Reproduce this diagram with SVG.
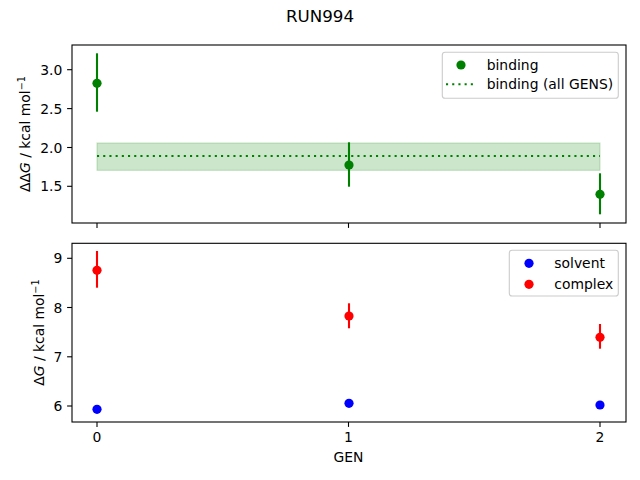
<svg xmlns="http://www.w3.org/2000/svg" width="640" height="480" viewBox="0 0 640 480">
<style>
text{font-family:"DejaVu Sans","Liberation Sans",sans-serif;fill:#000}
.tick{font-size:13.9px}
.ytl{text-anchor:end}
.xtl{text-anchor:middle}
.spine{fill:none;stroke:#000;stroke-width:1.1}
.tk{stroke:#000;stroke-width:1.1}
.leg{fill:#fff;fill-opacity:0.8;stroke:#cccccc;stroke-width:1.1}
.eg{stroke:#008000;stroke-width:2.1}
.er{stroke:#ff0000;stroke-width:2.1}
</style>
<rect width="640" height="480" fill="#fff"/>
<text x="320" y="22" font-size="16.7" text-anchor="middle">RUN994</text>

<g id="top-axes">
  <rect x="97" y="143" width="503" height="27.3" fill="#008000" fill-opacity="0.2" stroke="#008000" stroke-opacity="0.2" stroke-width="1.1"/>
  <line x1="97" y1="156" x2="600" y2="156" stroke="#008000" stroke-width="2.1" stroke-dasharray="2.1 4.1"/>
  <g id="binding-points">
    <line class="eg" x1="97" y1="53.3" x2="97" y2="111.7"/>
    <circle cx="97" cy="83.3" r="4.6" fill="#008000"/>
    <line class="eg" x1="349" y1="142.3" x2="349" y2="186.7"/>
    <circle cx="349" cy="165" r="4.6" fill="#008000"/>
    <line class="eg" x1="600" y1="173.3" x2="600" y2="214.3"/>
    <circle cx="600" cy="194.3" r="4.6" fill="#008000"/>
  </g>
  <rect class="spine" x="72" y="45" width="554" height="178"/>
  <g id="top-ticks">
    <line class="tk" x1="72" y1="69.7" x2="67.1" y2="69.7"/>
    <line class="tk" x1="72" y1="108.6" x2="67.1" y2="108.6"/>
    <line class="tk" x1="72" y1="147.5" x2="67.1" y2="147.5"/>
    <line class="tk" x1="72" y1="186.3" x2="67.1" y2="186.3"/>
    <line class="tk" x1="97" y1="223" x2="97" y2="227.9"/>
    <line class="tk" x1="348.5" y1="223" x2="348.5" y2="227.9"/>
    <line class="tk" x1="600" y1="223" x2="600" y2="227.9"/>
    <text class="tick ytl" x="62.3" y="74.7">3.0</text>
    <text class="tick ytl" x="62.3" y="113.6">2.5</text>
    <text class="tick ytl" x="62.3" y="152.5">2.0</text>
    <text class="tick ytl" x="62.3" y="191.3">1.5</text>
  </g>
  <text transform="translate(30,134) rotate(-90)" font-size="13.9" text-anchor="middle">ΔΔ<tspan font-style="italic">G</tspan> / kcal mol<tspan font-size="9.7" dy="-5">−1</tspan></text>
  <g id="top-legend">
    <rect class="leg" x="442.3" y="52.3" width="176" height="46" rx="2.8"/>
    <circle cx="461" cy="65" r="4.6" fill="#008000"/>
    <text class="tick" x="486.7" y="69.6">binding</text>
    <line x1="446" y1="84.3" x2="475" y2="84.3" stroke="#008000" stroke-width="2.1" stroke-dasharray="2.1 4.1"/>
    <text class="tick" x="486.7" y="89.4">binding (all GENS)</text>
  </g>
</g>

<g id="bottom-axes">
  <g id="complex-points">
    <line class="er" x1="97" y1="251" x2="97" y2="287.7"/>
    <circle cx="97" cy="270.3" r="4.6" fill="#ff0000"/>
    <line class="er" x1="349" y1="303.3" x2="349" y2="328.3"/>
    <circle cx="349" cy="316" r="4.6" fill="#ff0000"/>
    <line class="er" x1="600" y1="324" x2="600" y2="348.7"/>
    <circle cx="600" cy="337.3" r="4.6" fill="#ff0000"/>
  </g>
  <g id="solvent-points">
    <circle cx="97" cy="409.3" r="4.6" fill="#0000ff"/>
    <circle cx="349" cy="403.3" r="4.6" fill="#0000ff"/>
    <circle cx="600" cy="405" r="4.6" fill="#0000ff"/>
  </g>
  <rect class="spine" x="72" y="243.3" width="554" height="178.7"/>
  <g id="bottom-ticks">
    <line class="tk" x1="72" y1="258.3" x2="67.1" y2="258.3"/>
    <line class="tk" x1="72" y1="307.5" x2="67.1" y2="307.5"/>
    <line class="tk" x1="72" y1="356.8" x2="67.1" y2="356.8"/>
    <line class="tk" x1="72" y1="406" x2="67.1" y2="406"/>
    <text class="tick ytl" x="62.3" y="263.3">9</text>
    <text class="tick ytl" x="62.3" y="312.5">8</text>
    <text class="tick ytl" x="62.3" y="361.8">7</text>
    <text class="tick ytl" x="62.3" y="411">6</text>
    <line class="tk" x1="97" y1="422" x2="97" y2="426.9"/>
    <line class="tk" x1="348.5" y1="422" x2="348.5" y2="426.9"/>
    <line class="tk" x1="600" y1="422" x2="600" y2="426.9"/>
    <text class="tick xtl" x="97" y="441.7">0</text>
    <text class="tick xtl" x="348.5" y="441.7">1</text>
    <text class="tick xtl" x="600" y="441.7">2</text>
  </g>
  <text x="348.5" y="462" font-size="13.9" text-anchor="middle">GEN</text>
  <text transform="translate(43.5,332.6) rotate(-90)" font-size="13.9" text-anchor="middle">Δ<tspan font-style="italic">G</tspan> / kcal mol<tspan font-size="9.7" dy="-5">−1</tspan></text>
  <g id="bottom-legend">
    <rect class="leg" x="509.3" y="250.3" width="109" height="45.7" rx="2.8"/>
    <circle cx="529" cy="263.3" r="4.6" fill="#0000ff"/>
    <text class="tick" x="554.3" y="268.1">solvent</text>
    <circle cx="529" cy="284.3" r="4.6" fill="#ff0000"/>
    <text class="tick" x="554.3" y="289.1">complex</text>
  </g>
</g>
</svg>
